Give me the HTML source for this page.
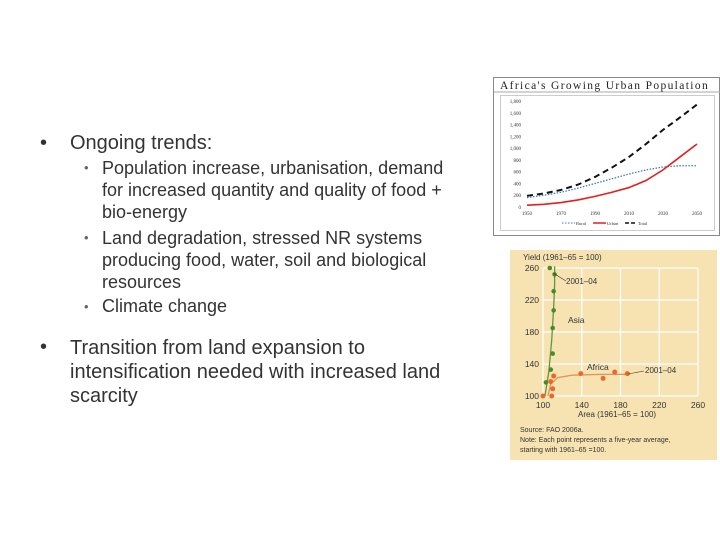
<!DOCTYPE html>
<html><head><meta charset="utf-8">
<style>
body{margin:0;width:720px;height:540px;background:#fff;overflow:hidden;position:relative;font-family:"Liberation Sans",sans-serif;color:#333}
.t{position:absolute;white-space:nowrap}
.l1{font-size:20px}
.l2{font-size:18px}
</style></head><body>
<div>
<div class="t l1" style="left:40px;top:132px">•</div>
<div class="t l1" style="left:70px;top:132px">Ongoing trends:</div>
<div class="t" style="left:84px;top:160px;font-size:13px;color:#666">•</div>
<div class="t l2" style="left:102px;top:157px;line-height:22px">Population increase, urbanisation, demand<br>for increased quantity and quality of food +<br>bio-energy</div>
<div class="t" style="left:84px;top:230px;font-size:13px;color:#666">•</div>
<div class="t l2" style="left:102px;top:227px;line-height:22px">Land degradation, stressed NR systems<br>producing food, water, soil and biological<br>resources</div>
<div class="t" style="left:84px;top:299px;font-size:13px;color:#666">•</div>
<div class="t l2" style="left:102px;top:296px">Climate change</div>
<div class="t l1" style="left:40px;top:336px">•</div>
<div class="t l1" style="left:70px;top:336px;line-height:24px">Transition from land expansion to<br>intensification needed with increased land<br>scarcity</div>
</div>

<svg id="c1" width="720" height="540" style="position:absolute;left:0;top:0">
<g id="g1">
<rect x="493.5" y="77.5" width="226" height="158" fill="#fff" stroke="#888"/>
<text x="500" y="89" font-family="Liberation Serif" font-size="11.5" fill="#222" textLength="208" letter-spacing="0.3">Africa's Growing Urban Population</text>
<line x1="494" y1="92" x2="720" y2="92" stroke="#aaa"/>
<rect x="500.5" y="95.5" width="214" height="135" fill="none" stroke="#ccc"/>
</g>
<g id="g2">
<rect x="510" y="250" width="207" height="210" fill="#f7e3b2"/>
</g>
</svg>
<script>
// Chart 1 data
const years=[1950,1960,1970,1980,1990,2000,2010,2020,2030,2040,2050];
const rural=[160,200,250,320,400,480,560,630,680,700,700];
const urban=[30,45,75,120,180,250,330,450,630,850,1070];
const total=[190,230,290,380,510,670,850,1070,1310,1520,1740];
const yTicks1=[0,200,400,600,800,1000,1200,1400,1600,1800];
const yTickLabels1=["0","200","400","600","800","1,000","1,200","1,400","1,600","1,800"];
const xTicks1=[1950,1970,1990,2010,2030,2050];
// Chart 2 data
const asiaArea=[103,108,110,110,111,111,112,107];
const asiaYield=[117,133,153,185,207,231,252,260];
const africaArea=[100,109,110,108,111,139,162,174,187];
const africaYield=[100,100,109,118,125,128,122,130,128];
const asiaCurveArea=[102,106,109,111,112,112];
const asiaCurveYield=[100,130,170,210,240,262];
const africaCurveArea=[105,108,115,130,160,190];
const africaCurveYield=[100,115,123,126,127,127];
const ticks2=[100,140,180,220,260];

const NS="http://www.w3.org/2000/svg";
function mk(p,tag,a){const e=document.createElementNS(NS,tag);for(const k in a)e.setAttribute(k,a[k]);p.appendChild(e);return e;}
const g1=document.getElementById('g1'),g2=document.getElementById('g2');
const x1=v=>527+(v-1950)/100*170, y1=v=>207-v/1800*106;
yTicks1.forEach((t,i)=>{const e=mk(g1,'text',{x:521,y:y1(t)+2,'font-size':5,'text-anchor':'end','font-family':'Liberation Serif',fill:'#333'});e.textContent=yTickLabels1[i];

});
xTicks1.forEach(t=>{const e=mk(g1,'text',{x:x1(t),y:215,'font-size':5,'text-anchor':'middle','font-family':'Liberation Serif',fill:'#333'});e.textContent=t;

});
function line(g,xs,ys,fx,fy,st){return mk(g,'polyline',Object.assign({points:xs.map((v,i)=>fx(v)+','+fy(ys[i])).join(' '),fill:'none'},st));}
let e=line(g1,years,rural,x1,y1,{stroke:'#3a7ab0','stroke-width':1.3,'stroke-dasharray':'1.5,1.5'});


e=line(g1,years,urban,x1,y1,{stroke:'#e02020','stroke-width':1.6});


e=line(g1,years,total,x1,y1,{stroke:'#111','stroke-width':2,'stroke-dasharray':'6,4'});


// legend
mk(g1,'line',{x1:562,y1:223,x2:575,y2:223,stroke:'#3a7ab0','stroke-dasharray':'1.5,1.5'});
mk(g1,'line',{x1:593,y1:223,x2:606,y2:223,stroke:'#e02020','stroke-width':1.5});
mk(g1,'line',{x1:625,y1:223,x2:635,y2:223,stroke:'#111','stroke-width':1.5,'stroke-dasharray':'4,2'});
[['Rural',576],['Urban',607],['Total',638]].forEach(([t,x])=>{const e=mk(g1,'text',{x:x,y:225,'font-size':4.5,'font-family':'Liberation Serif',fill:'#333'});e.textContent=t;

});

// Chart 2
const x2=v=>543+(v-100)/160*155, y2=v=>396-(v-100)/160*128;
ticks2.forEach(t=>{
mk(g2,'line',{x1:x2(t),y1:y2(100),x2:x2(t),y2:y2(260),stroke:'#fff','stroke-width':1.2});
mk(g2,'line',{x1:x2(100),y1:y2(t),x2:x2(260),y2:y2(t),stroke:'#fff','stroke-width':1.2});
let a=mk(g2,'text',{x:x2(t),y:408,'font-size':8.5,'text-anchor':'middle',fill:'#333'});a.textContent=t;


let b=mk(g2,'text',{x:539,y:y2(t)+3,'font-size':8.5,'text-anchor':'end',fill:'#333'});b.textContent=t;


});
function smooth(g,xs,ys,col,name){let d='M'+x2(xs[0])+','+y2(ys[0]);for(let i=1;i<xs.length;i++)d+=' L'+x2(xs[i])+','+y2(ys[i]);const p=mk(g,'path',{d:d,fill:'none',stroke:col,'stroke-width':1.3,'stroke-linejoin':'round'});

}
smooth(g2,asiaCurveArea,asiaCurveYield,'#5a9a3a','asia-curve');
smooth(g2,africaCurveArea,africaCurveYield,'#e8905a','africa-curve');
asiaArea.forEach((a,i)=>{const c=mk(g2,'circle',{cx:x2(a),cy:y2(asiaYield[i]),r:2.3,fill:'#4a8a2a'});

});
africaArea.forEach((a,i)=>{const c=mk(g2,'circle',{cx:x2(a),cy:y2(africaYield[i]),r:2.5,fill:'#e86a2a'});

});
[['Yield (1961–65 = 100)',523,260,8,'start'],['2001–04',566,284,8,'start'],['Asia',568,323,8.5,'start'],['Africa',587,370,8.5,'start'],['2001–04',645,373,8,'start'],['Area (1961–65 = 100)',578,417,8,'start']].forEach(([t,x,y,s,an])=>{const e=mk(g2,'text',{x:x,y:y,'font-size':s,'text-anchor':an,fill:'#333'});e.textContent=t;

});
mk(g2,'line',{x1:553,y1:273,x2:566,y2:281,stroke:'#333','stroke-width':0.6});
mk(g2,'line',{x1:628,y1:374,x2:644,y2:371,stroke:'#333','stroke-width':0.6});
[['Source: FAO 2006a.',520,432],['Note: Each point represents a five-year average,',520,442],['starting with 1961–65 =100.',520,452]].forEach(([t,x,y])=>{const e=mk(g2,'text',{x:x,y:y,'font-size':7,fill:'#333'});e.textContent=t;

});
</script>
</body></html>
